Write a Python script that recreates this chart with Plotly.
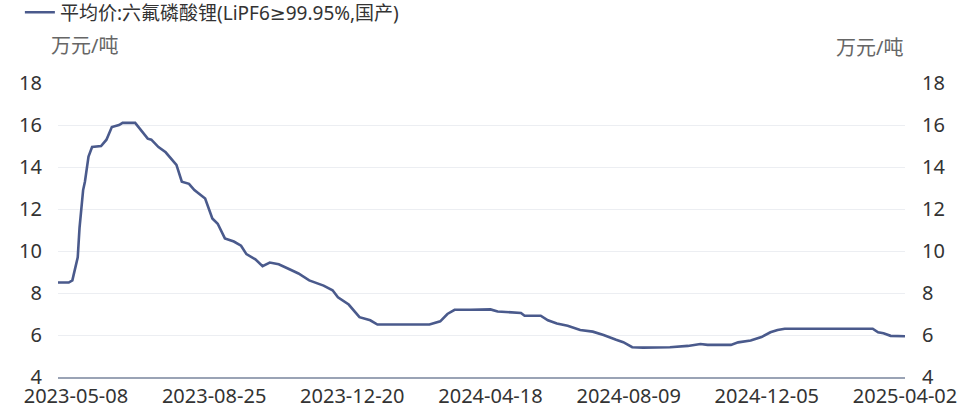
import plotly.graph_objects as go

# ---- data ----
dates = [
    "2023-04-19", "2023-04-27", "2023-05-04", "2023-05-09", "2023-05-10", "2023-05-12",
    "2023-05-15", "2023-05-17", "2023-05-19", "2023-05-26", "2023-05-31", "2023-06-05",
    "2023-06-09", "2023-06-13", "2023-06-26", "2023-06-29", "2023-07-03", "2023-07-05",
    "2023-07-07", "2023-07-13", "2023-07-19", "2023-07-24", "2023-07-27", "2023-08-01",
    "2023-08-07", "2023-08-10", "2023-08-18", "2023-08-24", "2023-08-29", "2023-09-04",
    "2023-09-11", "2023-09-15", "2023-09-20", "2023-09-27", "2023-10-11", "2023-10-17",
    "2023-10-24", "2023-11-01", "2023-11-08", "2023-11-16", "2023-11-28", "2023-12-05",
    "2023-12-08", "2023-12-18", "2023-12-26", "2024-01-04", "2024-01-10", "2024-02-28",
    "2024-03-07", "2024-03-13", "2024-03-19", "2024-04-01", "2024-04-18", "2024-04-24",
    "2024-05-08", "2024-05-16", "2024-05-20", "2024-05-31", "2024-06-06", "2024-06-14",
    "2024-06-24", "2024-07-03", "2024-07-12", "2024-07-22", "2024-07-31", "2024-08-06",
    "2024-08-13", "2024-08-21", "2024-09-11", "2024-09-27", "2024-10-15", "2024-10-21",
    "2024-11-07", "2024-11-13", "2024-11-22", "2024-12-02", "2024-12-09", "2024-12-13",
    "2024-12-19", "2025-03-07", "2025-03-12", "2025-03-17", "2025-03-21", "2025-04-02",
]
price = [
    8.5, 8.5, 8.6, 9.7, 11.1, 12.9,
    13.3, 14.5, 14.95, 15.0, 15.3, 15.9,
    16.0, 16.1, 16.1, 15.8, 15.6, 15.35,
    15.3, 14.95, 14.7, 14.4, 14.1, 13.3,
    13.2, 12.9, 12.5, 11.55, 11.3, 10.6,
    10.45, 10.25, 9.85, 9.6, 9.28, 9.45,
    9.37, 9.13, 8.93, 8.6, 8.35, 8.13,
    7.8, 7.45, 6.85, 6.7, 6.5, 6.5,
    6.65, 7.0, 7.2, 7.2, 7.22, 7.12,
    7.1, 7.05, 6.92, 6.92, 6.7, 6.55,
    6.44, 6.24, 6.16, 6.0, 5.77, 5.66,
    5.42, 5.4, 5.42, 5.48, 5.57, 5.53,
    5.53, 5.65, 5.74, 5.9, 6.13, 6.24,
    6.3, 6.3, 6.13, 6.08, 5.96, 5.94,
]
tick_dates = ["2023-05-08", "2023-08-25", "2023-12-20", "2024-04-18",
              "2024-08-09", "2024-12-05", "2025-04-02"]
y_ticks = [4, 6, 8, 10, 12, 14, 16, 18]
series_name = "平均价:六氟磷酸锂(LiPF6≥99.95%,国产)"
unit = "万元/吨"

# exchange holidays (weekdays with no trading) -> trading-day axis
holidays = [
    "2023-05-01", "2023-05-02", "2023-05-03",
    "2023-06-22", "2023-06-23", "2023-09-29", "2023-10-02", "2023-10-03", "2023-10-04",
    "2023-10-05", "2023-10-06", "2024-01-01", "2024-02-09", "2024-02-12", "2024-02-13",
    "2024-02-14", "2024-02-15", "2024-02-16", "2024-04-04", "2024-04-05", "2024-05-01",
    "2024-05-02", "2024-05-03", "2024-06-10", "2024-09-16", "2024-09-17", "2024-10-01",
    "2024-10-02", "2024-10-03", "2024-10-04", "2024-10-07", "2025-01-01", "2025-01-28",
    "2025-01-29", "2025-01-30", "2025-01-31", "2025-02-03", "2025-02-04",
]

FONT = "Noto Sans, DejaVu Sans, Noto Sans CJK SC, sans-serif"
LINE = "#4a5a8c"

fig = go.Figure()
fig.add_trace(go.Scatter(
    x=dates, y=price, mode="lines", name=series_name,
    line=dict(color=LINE, width=2.6, shape="linear"),
    showlegend=True,
))
# helper trace so the right axis is drawn
fig.add_trace(go.Scatter(x=[dates[0]], y=[None], yaxis="y2", showlegend=False,
                         hoverinfo="skip", mode="lines"))

fig.update_layout(
    width=960, height=419,
    margin=dict(l=58, r=55, t=83, b=42, autoexpand=False),
    paper_bgcolor="white", plot_bgcolor="white",
    font=dict(family=FONT, color="#333333", size=18),
    showlegend=True,
    legend=dict(
        x=-0.045, y=1.305, xanchor="left", yanchor="top",
        orientation="h", bgcolor="rgba(0,0,0,0)",
        font=dict(size=19, color="#333333", family=FONT),
        itemwidth=30,
    ),
    xaxis=dict(
        type="date",
        range=[dates[0], dates[-1]],
        rangebreaks=[dict(bounds=["sat", "mon"]), dict(values=holidays)],
        tickmode="array", tickvals=tick_dates, ticktext=tick_dates,
        showgrid=False, zeroline=False,
        showline=True, linecolor="#9aa3b5", linewidth=2,
        ticks="", tickfont=dict(size=20, color="#333333"),
        ticklabelstandoff=0,
        fixedrange=True,
    ),
    yaxis=dict(
        range=[4, 18], tickmode="array", tickvals=y_ticks,
        showgrid=True, gridcolor="#eceef2", gridwidth=1,
        zeroline=False, showline=False, ticks="",
        ticklabelstandoff=15,
        tickfont=dict(size=20, color="#333333"),
    ),
    yaxis2=dict(
        range=[4, 18], tickmode="array", tickvals=y_ticks,
        overlaying="y", side="right", anchor="x",
        showgrid=False, zeroline=False, showline=False, ticks="",
        ticklabelstandoff=16,
        tickfont=dict(size=20, color="#333333"),
    ),
    annotations=[
        dict(text=unit, xref="paper", yref="paper", x=-0.0106, y=1.126,
             xanchor="left", yanchor="middle", showarrow=False,
             font=dict(size=20, color="#666666", family=FONT)),
        dict(text=unit, xref="paper", yref="paper", x=1.0, y=1.12,
             xanchor="right", yanchor="middle", showarrow=False,
             font=dict(size=20, color="#666666", family=FONT)),
    ],
)

fig.write_html("out.html",
               config={"displayModeBar": False},
               post_script="document.body.style.margin='0';")
